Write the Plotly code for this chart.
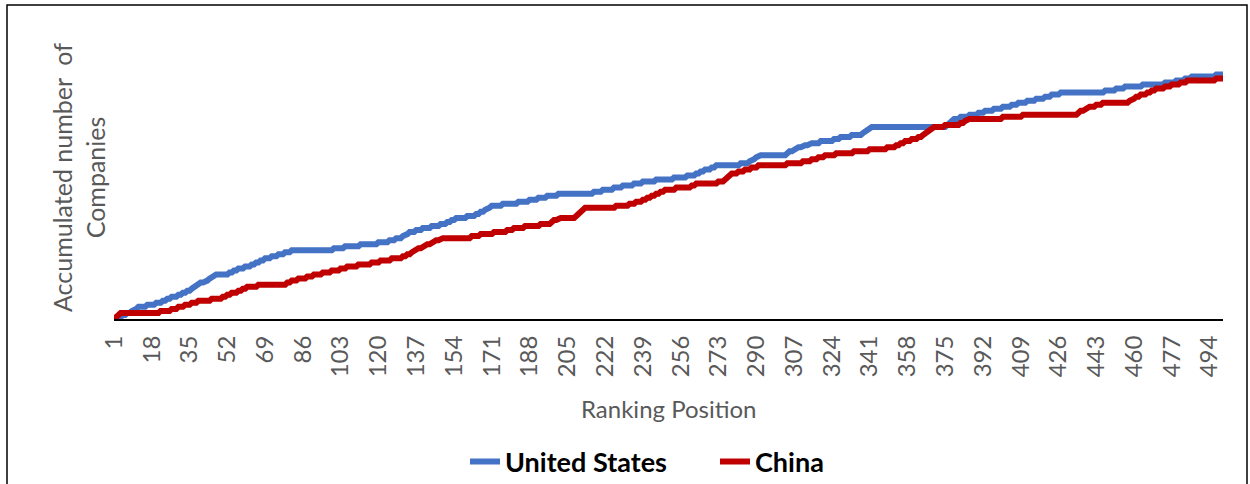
import numpy as np
import plotly.graph_objects as go

# Ranking positions (1..500) on the x axis
positions = list(range(1, 501))
tick_labels = [str(v) for v in range(1, 501, 17)]

# Ranking positions held by companies of each country
us_ranks = [3, 5, 7, 9, 10, 12, 16, 20, 23, 25, 27, 30, 32, 34, 36, 37, 39,
            40, 42, 44, 45, 47, 53, 55, 57, 60, 63, 65, 67, 69, 72, 75, 78, 81,
            100, 105, 112, 120, 125, 128, 131, 132, 134, 137, 140, 144, 148,
            151, 153, 155, 160, 164, 166, 168, 169, 171, 176, 183, 188, 192, 196,
            201, 217, 221, 226, 230, 235, 239, 245, 253, 259, 263, 265, 267,
            270, 272, 283, 287, 288, 290, 291, 304, 305, 307, 308, 311, 314,
            319, 325, 328, 333, 338, 339, 341, 342, 376, 377, 378, 379, 382,
            386, 390, 393, 397, 401, 405, 408, 412, 416, 420, 423, 427, 447,
            452, 456, 464, 474, 479, 483, 486, 497]
china_ranks = [2, 3, 4, 22, 27, 30, 33, 36, 39, 45, 50, 52, 54, 57, 59, 61, 66,
               79, 81, 84, 88, 91, 95, 99, 103, 106, 111, 117, 121, 126, 131, 133,
               135, 136, 138, 140, 141, 144, 146, 148, 162, 166, 172, 178, 181,
               186, 193, 198, 199, 201, 209, 210, 211, 212, 213, 227, 233, 236,
               239, 241, 243, 245, 247, 249, 254, 261, 263, 273, 276, 277, 278,
               279, 282, 285, 288, 291, 304, 311, 315, 318, 321, 326, 334, 341,
               349, 353, 355, 357, 360, 363, 365, 366, 367, 368, 369, 375, 382,
               384, 385, 401, 410, 435, 436, 438, 439, 443, 446, 458, 459, 461,
               463, 466, 468, 470, 474, 477, 481, 484, 497]

series_names = ["United States", "China"]
series_colors = ["#4472C4", "#C00000"]

us_cum = np.cumsum(np.isin(positions, us_ranks))
china_cum = np.cumsum(np.isin(positions, china_ranks))

W, H = 1250, 484
L, R, T, B = 114, 1223, 36, 319
pw, ph = R - L, B - T


def px_x(p):
    return (p - L) / pw


def px_y(p):
    return (B - p) / ph


fig = go.Figure()
for name, ys, col in zip(series_names, [us_cum, china_cum], series_colors):
    fig.add_trace(go.Scatter(x=positions, y=ys, mode="lines", name=name,
                             line=dict(color=col, width=6)))

FONT = "Lato, 'Open Sans', sans-serif"
fig.update_layout(
    width=W, height=H,
    margin=dict(l=L, r=W - R, t=T, b=H - B, autoexpand=False),
    paper_bgcolor="white", plot_bgcolor="white",
    font=dict(family=FONT, color="#595959"),
    showlegend=True,
    legend=dict(orientation="h", x=px_x(465), y=px_y(462), xanchor="left",
                yanchor="middle", font=dict(size=27, color="black", weight="bold"),
                itemwidth=30, tracegroupgap=0, entrywidth=205,
                entrywidthmode="pixels"),
    xaxis=dict(range=[1, 500], tickmode="array",
               tickvals=[int(t) for t in tick_labels], ticktext=tick_labels,
               tickangle=-90, tickfont=dict(size=24, color="#595959"),
               ticklabelstandoff=5,
               showgrid=False, zeroline=False, showline=True,
               linecolor="black", linewidth=2, ticks="", fixedrange=True),
    yaxis=dict(range=[0, 140], showticklabels=False, showgrid=False,
               zeroline=False, showline=False, ticks=""),
)

fig.add_annotation(text="Accumulated number  of<br>Companies", textangle=-90,
                   x=px_x(78), y=px_y(178), xref="paper", yref="paper",
                   xanchor="center", yanchor="middle",
                   showarrow=False, font=dict(size=25, color="#595959"))
fig.add_annotation(text="Ranking Position", x=px_x(668), y=px_y(408),
                   xref="paper", yref="paper", showarrow=False,
                   xanchor="center", yanchor="middle",
                   font=dict(size=24, color="#595959"))

fig.add_shape(type="rect", xref="paper", yref="paper",
              x0=px_x(7), x1=px_x(1247), y0=px_y(492), y1=px_y(5),
              line=dict(color="black", width=1.5), fillcolor="rgba(0,0,0,0)",
              layer="below")

fig.write_html("out.html")
